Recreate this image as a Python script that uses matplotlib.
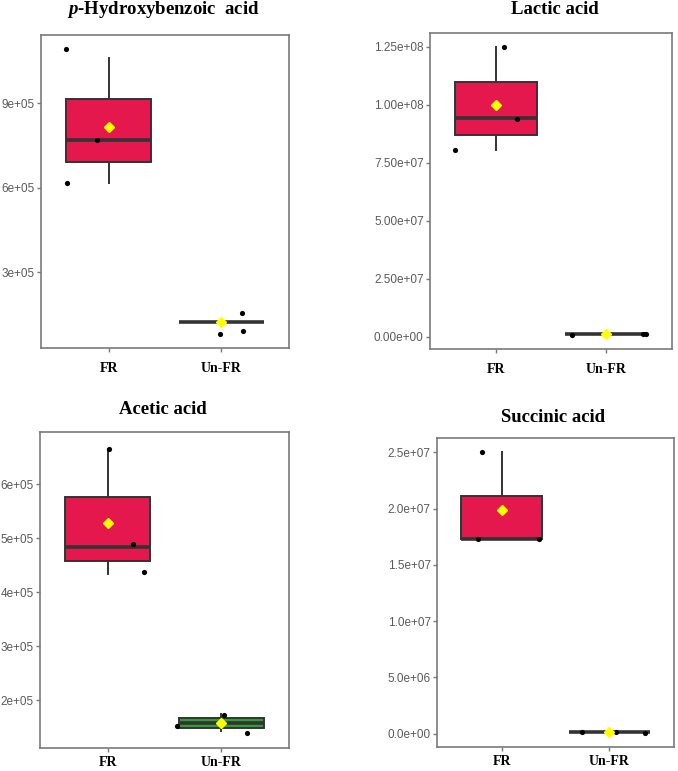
import matplotlib
matplotlib.use("Agg")
import matplotlib.pyplot as plt

plt.rcParams['mathtext.fontset'] = 'custom'
plt.rcParams['mathtext.rm'] = 'Liberation Serif:bold'
plt.rcParams['mathtext.it'] = 'Liberation Serif:italic:bold'
plt.rcParams['mathtext.bf'] = 'Liberation Serif:bold'

# ---------------- data ----------------
groups = ["FR", "Un-FR"]
titles = [r"$\it{p}$-Hydroxybenzoic  acid", "Lactic acid", "Acetic acid", "Succinic acid"]

# box statistics per panel: [FR, Un-FR] -> (whislo, q1, med, q3, whishi, mean)
hba_stats = [(6.15e5, 6.91e5, 7.69e5, 9.15e5, 1.06e6, 8.14e5),
             (1.24e5, 1.24e5, 1.24e5, 1.24e5, 1.24e5, 1.24e5)]
lac_stats = [(8.04e7, 8.72e7, 9.42e7, 1.098e8, 1.25e8, 9.98e7),
             (1.0e6, 1.0e6, 1.0e6, 1.0e6, 1.0e6, 1.0e6)]
ace_stats = [(4.33e5, 4.585e5, 4.84e5, 5.76e5, 6.66e5, 5.29e5),
             (1.425e5, 1.488e5, 1.573e5, 1.673e5, 1.735e5, 1.573e5)]
suc_stats = [(1.727e7, 1.727e7, 1.727e7, 2.115e7, 2.5e7, 1.985e7),
             (1.4e5, 1.4e5, 1.4e5, 1.4e5, 1.4e5, 1.4e5)]

# jittered sample points: values and horizontal jitter (category units)
hba_fr = [1.092e6, 7.70e5, 6.15e5];   hba_fr_jit = [-0.375, -0.10, -0.37]
hba_un = [0.81e5, 1.53e5, 0.905e5];   hba_un_jit = [-0.01, 0.18, 0.195]
lac_fr = [8.04e7, 1.25e8, 9.41e7];    lac_fr_jit = [-0.37, 0.07, 0.19]
lac_un = [0.6e6, 1.1e6, 1.2e6];       lac_un_jit = [-0.31, 0.34, 0.36]
ace_fr = [6.65e5, 4.90e5, 4.37e5];    ace_fr_jit = [0.006, 0.22, 0.32]
ace_un = [1.52e5, 1.73e5, 1.38e5];    ace_un_jit = [-0.39, 0.03, 0.23]
suc_fr = [2.5e7, 1.73e7, 1.73e7];     suc_fr_jit = [-0.18, -0.22, 0.35]
suc_un = [1.4e5, 1.5e5, 0.3e5];       suc_un_jit = [-0.25, 0.065, 0.33]

# y ticks
hba_ticks = [3e5, 6e5, 9e5];  hba_labels = ["3e+05", "6e+05", "9e+05"]
lac_ticks = [0, 2.5e7, 5e7, 7.5e7, 1e8, 1.25e8]
lac_labels = ["0.00e+00", "2.50e+07", "5.00e+07", "7.50e+07", "1.00e+08", "1.25e+08"]
ace_ticks = [2e5, 3e5, 4e5, 5e5, 6e5]
ace_labels = ["2e+05", "3e+05", "4e+05", "5e+05", "6e+05"]
suc_ticks = [0, 5e6, 1e7, 1.5e7, 2e7, 2.5e7]
suc_labels = ["0.0e+00", "5.0e+06", "1.0e+07", "1.5e+07", "2.0e+07", "2.5e+07"]

# ---------------- layout ----------------
W, H = 678, 771
fig = plt.figure(figsize=(W / 100, H / 100), dpi=100)

def frac(l, t, r, b):
    return [l / W, 1 - b / H, (r - l) / W, (b - t) / H]

panels = [
    dict(rect=frac(41, 35, 289, 348), stats=hba_stats, fr=(hba_fr, hba_fr_jit), un=(hba_un, hba_un_jit),
         ticks=hba_ticks, labels=hba_labels, ylim=(0.30e5, 1.142e6), title=titles[0], tpos=(163, 9),
         colors=["#E5184D", "#E5184D"], xpad=7),
    dict(rect=frac(430, 33, 672, 349), stats=lac_stats, fr=(lac_fr, lac_fr_jit), un=(lac_un, lac_un_jit),
         ticks=lac_ticks, labels=lac_labels, ylim=(-0.53e7, 1.31e8), title=titles[1], tpos=(555, 10),
         colors=["#E5184D", "#E5184D"], xpad=7),
    dict(rect=frac(40, 432, 289, 748), stats=ace_stats, fr=(ace_fr, ace_fr_jit), un=(ace_un, ace_un_jit),
         ticks=ace_ticks, labels=ace_labels, ylim=(1.11e5, 6.97e5), title=titles[2], tpos=(163, 409),
         colors=["#E5184D", "#2E9E35"], xpad=3),
    dict(rect=frac(437, 438, 674, 747), stats=suc_stats, fr=(suc_fr, suc_fr_jit), un=(suc_un, suc_un_jit),
         ticks=suc_ticks, labels=suc_labels, ylim=(-0.12e7, 2.627e7), title=titles[3], tpos=(553, 418),
         colors=["#E5184D", "#E5184D"], xpad=3),
]

edge = "#333333"
frame = "#7A7A7A"

for p in panels:
    ax = fig.add_axes(p["rect"])
    bstats = []
    for g, s in zip(groups, p["stats"]):
        lo, q1, med, q3, hi, mean = s
        bstats.append(dict(label=g, whislo=lo, q1=q1, med=med, q3=q3, whishi=hi, mean=mean, fliers=[]))
    bp = ax.bxp(bstats, positions=[1, 2], widths=0.75, patch_artist=True, showmeans=True,
                showcaps=False, showfliers=False,
                boxprops=dict(edgecolor=edge, linewidth=1.4),
                medianprops=dict(color=edge, linewidth=2.6, solid_capstyle='butt'),
                whiskerprops=dict(color=edge, linewidth=1.4),
                meanprops=dict(marker='D', markerfacecolor='#FFFF00', markeredgecolor='#FFFF00',
                               markersize=5.5),
                zorder=2)
    for patch, c in zip(bp['boxes'], p["colors"]):
        patch.set_facecolor(c)
    for m in bp['means']:
        m.set_zorder(5)
    for i, (vals, jit) in enumerate([p["fr"], p["un"]]):
        xs = [i + 1 + j for j in jit]
        ax.scatter(xs, vals, s=14, color='black', zorder=4, linewidths=0)
    ax.set_xlim(0.4, 2.6)
    ax.set_ylim(*p["ylim"])
    ax.set_xticks([1, 2])
    ax.set_xticklabels(groups, family="Liberation Serif", fontweight="bold", fontsize=10, color="black")
    ax.set_yticks(p["ticks"])
    ax.set_yticklabels(p["labels"], family="Liberation Sans", fontsize=8.5, color="#5A5A5A")
    ax.tick_params(axis='both', length=3, width=1.0, color=frame)
    ax.tick_params(axis='x', pad=p["xpad"])
    ax.tick_params(axis='y', pad=1.5)
    for sp in ax.spines.values():
        sp.set_color(frame)
        sp.set_linewidth(1.2)
    fig.text(p["tpos"][0] / W, 1 - p["tpos"][1] / H, p["title"], ha='center', va='center',
             family="Liberation Serif", fontweight="bold", fontsize=13.5, color="black")

fig.savefig("out.png", dpi=100)
